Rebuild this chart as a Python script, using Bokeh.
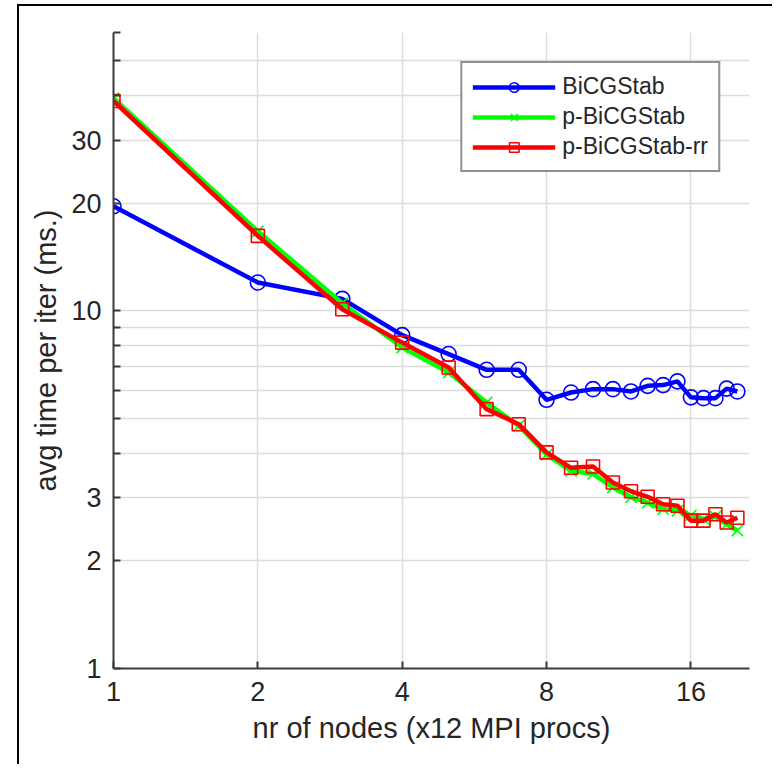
from bokeh.plotting import figure
from bokeh.models import FixedTicker, PrintfTickFormatter, Range1d
from bokeh.embed import file_html
from bokeh.resources import INLINE

nodes = list(range(1, 21))
bicgstab = [19.6, 12.0, 10.8, 8.55, 7.57, 6.84, 6.84, 5.64, 5.91, 6.04,
            6.04, 5.95, 6.17, 6.2, 6.35, 5.73, 5.7, 5.7, 6.06, 5.95]
p_bicgstab = [39.3, 16.7, 10.5, 7.9, 6.72, 5.54, 4.77, 3.96, 3.57, 3.5,
              3.21, 3.01, 2.91, 2.79, 2.76, 2.68, 2.62, 2.66, 2.53, 2.43]
p_bicgstab_rr = [38.6, 16.2, 10.1, 8.15, 6.94, 5.31, 4.82, 4.02, 3.64, 3.67,
                 3.31, 3.13, 3.02, 2.88, 2.85, 2.59, 2.59, 2.70, 2.56, 2.64]

x_ticks = [1, 2, 4, 8, 16]
y_ticks = [1, 2, 3, 10, 20, 30]
y_minor = [4, 5, 6, 7, 8, 9, 40, 50, 60]

FONT = "Liberation Sans"
AX = "#3a3a3a"

p = figure(width=755, height=760, x_axis_type="log", y_axis_type="log",
           x_range=Range1d(1, 21.2), y_range=Range1d(1, 60),
           output_backend="svg", toolbar_location=None,
           min_border_left=94, min_border_right=25, min_border_top=26,
           min_border_bottom=98)
p.margin = (4, 0, 0, 17)
p.styles = {"border-top": "2px solid black", "border-left": "2px solid black"}
p.outline_line_color = None
p.background_fill_color = "white"
p.border_fill_color = "white"

p.xaxis.ticker = FixedTicker(ticks=x_ticks, minor_ticks=[])
p.yaxis.ticker = FixedTicker(ticks=y_ticks, minor_ticks=y_minor)
p.xaxis.formatter = PrintfTickFormatter(format="%d")
p.yaxis.formatter = PrintfTickFormatter(format="%d")

for ax in (p.xaxis, p.yaxis):
    ax.axis_line_color = AX
    ax.axis_line_width = 2
    ax.major_tick_line_color = AX
    ax.major_tick_line_width = 2
    ax.major_tick_in = 7
    ax.major_tick_out = 0
    ax.minor_tick_line_color = AX
    ax.minor_tick_line_width = 2
    ax.minor_tick_in = 7
    ax.minor_tick_out = 0
    ax.major_label_text_font = FONT
    ax.major_label_text_font_size = "27px"
    ax.major_label_text_color = "#262626"
    ax.axis_label_text_font = FONT
    ax.axis_label_text_font_size = "29px"
    ax.axis_label_text_font_style = "normal"
    ax.axis_label_text_color = "#262626"

p.xaxis.axis_label = "nr of nodes (x12 MPI procs)"
p.yaxis.axis_label = "avg time per iter (ms.)"
p.xaxis.major_label_standoff = 13
p.yaxis.major_label_standoff = 12
p.xaxis.axis_label_standoff = 8
p.yaxis.axis_label_standoff = 6

p.xgrid.grid_line_color = "#dcdcdc"
p.xgrid.grid_line_width = 1.5
p.ygrid.grid_line_color = "#dcdcdc"
p.ygrid.grid_line_width = 1.5
p.ygrid.minor_grid_line_color = "#dcdcdc"
p.ygrid.minor_grid_line_width = 1.5

series = [
    ("BiCGStab", bicgstab, "#0000ff", "circle", 15),
    ("p-BiCGStab", p_bicgstab, "#00ff00", "x", 16),
    ("p-BiCGStab-rr", p_bicgstab_rr, "#ff0000", "square", 13),
]
for label, ys, color, marker, size in series:
    p.line(nodes, ys, line_color=color, line_width=4.5, legend_label=label)
    p.scatter(nodes, ys, marker=marker, size=size, line_color=color,
              line_width=1.6, fill_color=None, legend_label=label)

lg = p.legend[0]
lg.location = "top_right"
lg.margin = 29
lg.border_line_color = "#222222"
lg.border_line_width = 2
lg.background_fill_color = "white"
lg.background_fill_alpha = 1
lg.label_text_font = FONT
lg.label_text_font_size = "23px"
lg.label_text_color = "#262626"
lg.glyph_width = 83
lg.glyph_height = 24
lg.label_height = 24
lg.spacing = 3
lg.padding = 10
lg.label_standoff = 7

open("out.html", "w").write(file_html(p, INLINE))
